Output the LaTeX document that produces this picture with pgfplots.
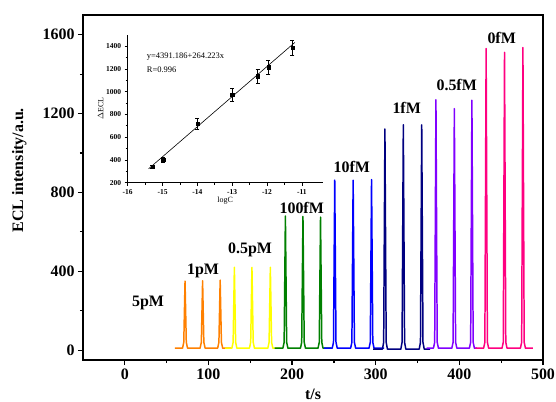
\documentclass[border=0pt]{standalone}
\usepackage{fontspec}
\setmainfont{Liberation Serif}
\usepackage{pgfplots}
\pgfplotsset{compat=1.18}

\definecolor{corange}{RGB}{255,128,0}
\definecolor{cyellow}{RGB}{255,255,0}
\definecolor{cgreen}{RGB}{0,128,0}
\definecolor{cblue}{RGB}{0,0,255}
\definecolor{cnavy}{RGB}{0,0,128}
\definecolor{cpurple}{RGB}{128,0,255}
\definecolor{cpink}{RGB}{255,0,128}

\newcommand{\bigfont}{\fontsize{16}{18}\selectfont\bfseries}

\begin{document}
\begin{tikzpicture}
\begin{axis}[
  name=main,
  scale only axis,
  width=460bp, height=345bp,
  xmin=-50, xmax=500, ymin=-50, ymax=1700,
  xtick={0,100,...,500}, ytick={0,400,...,1600},
  minor x tick num=1, minor y tick num=1,
  tick align=outside, xtick pos=bottom, ytick pos=left,
  major tick length=5bp, minor tick length=3bp,
  every tick/.style={line width=1.2pt, black},
  axis line style={line width=1.2pt},
  /pgf/number format/assume math mode=true,
  /pgf/number format/1000 sep={},
  ticklabel style={font=\bigfont},
  xlabel={t/s}, ylabel={ECL intensity/a.u.},
  label style={font=\bigfont},
  xlabel style={at={(rel axis cs:0.5,0)}, yshift=-25bp, anchor=north},
  ylabel style={at={(rel axis cs:0,0.55)}, yshift=53bp, anchor=south},
  every axis plot/.append style={line width=1.5pt, line join=round, no marks},
  clip=false,
]
\addplot[corange] coordinates {(60,10) (69,10) (70.5,40) (72,350) (73.5,40) (75,10) (90,10) (91.5,40) (93,352) (94.5,40) (96,10) (111,10) (112.5,40) (114,355) (115.5,40) (117,10) (127,10)};
\addplot[cyellow] coordinates {(120,10) (128,10) (129.5,40) (131,420) (132.5,40) (134,10) (149,10) (150.5,40) (152,420) (153.5,40) (155,10) (171,10) (172.5,40) (174,420) (175.5,40) (177,10) (186,10)};
\addplot[cgreen] coordinates {(179,10) (189,10) (190.5,40) (192,680) (193.5,40) (195,10) (210,10) (211.5,40) (213,678) (214.5,40) (216,10) (231,10) (232.5,40) (234,675) (235.5,40) (237,10) (247,10)};
\addplot[cblue] coordinates {(238,10) (248,10) (249.5,40) (251,862) (252.5,40) (254,10) (270,10) (271.5,40) (273,862) (274.5,40) (276,10) (292,10) (293.5,40) (295,865) (296.5,40) (298,10) (310,10)};
\addplot[cnavy] coordinates {(297,5) (308,5) (309.5,40) (311,1122) (312.5,40) (314,5) (330,5) (331.5,40) (333,1143) (334.5,40) (336,5) (352,5) (353.5,40) (355,1143) (356.5,40) (358,5) (365,5)};
\addplot[cpurple] coordinates {(361,10) (369,10) (370.5,40) (372,1270) (373.5,40) (375,10) (391,10) (392.5,40) (394,1225) (395.5,40) (397,10) (412,10) (413.5,40) (415,1268) (416.5,40) (418,10) (421,10)};
\addplot[cpink] coordinates {(419,10) (429,10) (430.5,40) (432,1530) (433.5,40) (435,10) (451,10) (452.5,40) (454,1510) (455.5,40) (457,10) (473,10) (474.5,40) (476,1535) (477.5,40) (479,10) (488,10)};

\node[font=\bigfont] at (axis cs:27.7,239) {5pM};
\node[font=\bigfont] at (axis cs:93.5,401) {1pM};
\node[font=\bigfont] at (axis cs:149.7,508) {0.5pM};
\node[font=\bigfont] at (axis cs:211.5,723) {100fM};
\node[font=\bigfont] at (axis cs:271.3,930) {10fM};
\node[font=\bigfont] at (axis cs:337,1227) {1fM};
\node[font=\bigfont] at (axis cs:396.8,1345) {0.5fM};
\node[font=\bigfont] at (axis cs:450.6,1582) {0fM};
\end{axis}

\begin{axis}[
  at={(44.7bp,177.3bp)}, anchor=south west,
  scale only axis,
  width=195bp, height=148bp,
  xmin=-16, xmax=-10.4, ymin=200, ymax=1500,
  xtick={-16,...,-11}, ytick={200,400,...,1400},
  minor x tick num=1, minor y tick num=1,
  axis lines*=left,
  axis line style={line width=0.8pt},
  tick align=outside,
  major tick length=3bp, minor tick length=2bp,
  every tick/.style={line width=0.6pt, black},
  /pgf/number format/assume math mode=true,
  /pgf/number format/1000 sep={},
  ticklabel style={font=\fontsize{7.5}{8}\selectfont\bfseries},
  xlabel={logC}, ylabel={$\Delta$ECL},
  label style={font=\fontsize{8}{9}\selectfont},
  xlabel style={yshift=4bp},
  ylabel style={yshift=-4bp},
  clip=false,
]
\addplot[black, line width=0.6pt, no marks] coordinates {(-15.4,322.2) (-11.2,1431.9)};
\addplot[black, only marks, mark=square*, mark size=1.6bp,
  error bars/.cd, y dir=both, y explicit,
  error bar style={line width=0.6pt}, error mark options={rotate=90, mark size=2bp, line width=0.6pt}]
  coordinates {
  (-15.29,341) +- (0,15)
  (-14.98,400) +- (0,20)
  (-14,718) +- (0,47)
  (-13,971) +- (0,59)
  (-12.27,1135) +- (0,59)
  (-11.96,1215) +- (0,62)
  (-11.27,1385) +- (0,70)
  };
\node[anchor=west, font=\fontsize{8.5}{9}\selectfont] at (axis cs:-15.55,1307) {y=4391.186+264.223x};
\node[anchor=west, font=\fontsize{8.5}{9}\selectfont] at (axis cs:-15.55,1190) {R=0.996};
\end{axis}

\pgfresetboundingbox
\path[use as bounding box] (-83bp,-42bp) rectangle (473bp,360bp);
\end{tikzpicture}
\end{document}
